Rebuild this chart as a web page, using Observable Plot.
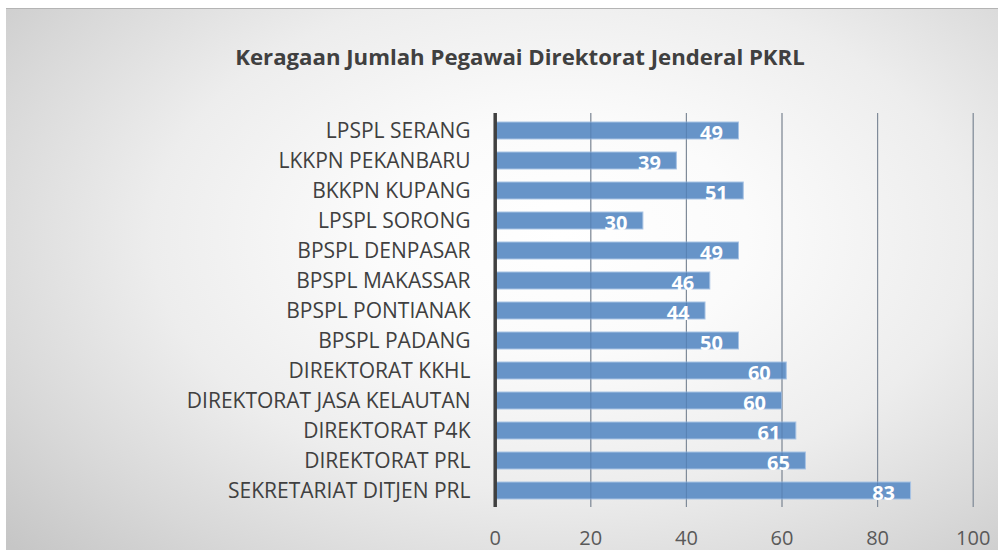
<!DOCTYPE html>
<html><head><meta charset="utf-8">
<script src="https://cdn.jsdelivr.net/npm/d3@7"></script>
<script src="https://cdn.jsdelivr.net/npm/@observablehq/plot@0.6"></script>
<style>
html,body{margin:0;padding:0;background:#fff}
body{width:998px;height:550px;overflow:hidden;position:relative;font-family:"Open Sans",sans-serif}
#bg{position:absolute;left:6px;top:8px;right:0;bottom:0;border-top:1px solid #b4b4b4;
background:radial-gradient(ellipse 75% 85% at 56% 42%, #ffffff 0%, #fbfbfb 25%, #ededed 55%, #d8d8d8 80%, #c6c6c6 100%)}
#title{position:absolute;left:0;width:1040px;top:46px;text-align:center;font-weight:700;font-size:22.2px;line-height:21.5px;color:#404040}
#chart{position:absolute;left:0;top:0}
</style>
</head><body>
<div id="bg"></div>
<div id="title">Keragaan Jumlah Pegawai Direktorat Jenderal PKRL</div>
<div id="chart"></div>
<script>
const categories = ["LPSPL SERANG","LKKPN PEKANBARU","BKKPN KUPANG","LPSPL SORONG","BPSPL DENPASAR","BPSPL MAKASSAR","BPSPL PONTIANAK","BPSPL PADANG","DIREKTORAT KKHL","DIREKTORAT JASA KELAUTAN","DIREKTORAT P4K","DIREKTORAT PRL","SEKRETARIAT DITJEN PRL"];
const barLengths = [51,38,52,31,51,45,44,51,61,60,63,65,87];
const valueLabels = [49,39,51,30,49,46,44,50,60,60,61,65,83];
const xTicks = [0,20,40,60,80,100];
const data = categories.map((c,i)=>({category:c,length:barLengths[i],label:valueLabels[i]}));
const grid = xTicks.filter(d=>d>0);
const chart = Plot.plot({
  width:998, height:550,
  marginLeft:494.7, marginRight:25.3, marginTop:106.2, marginBottom:36.1,
  style:{background:"transparent", fontFamily:"'Open Sans', sans-serif", overflow:"visible"},
  x:{domain:[0,100], ticks:xTicks},
  y:{domain:categories, padding:0.44},
  marks:[
    Plot.ruleX(grid,{stroke:"#a0a0a0",strokeWidth:1.2,insetTop:6.8,insetBottom:6.9}),
    Plot.barX(data,{x:"length",y:"category",fill:"#6794c8",stroke:"#a8c3e4",strokeWidth:1}),
    Plot.ruleX(grid,{stroke:"#3a5f8c",strokeOpacity:0.35,strokeWidth:1,insetTop:6.8,insetBottom:6.9}),
    Plot.text(data,{x:"length",y:"category",text:"label",textAnchor:"end",dx:-16,dy:3,fill:"white",fontWeight:700,fontSize:20}),
    Plot.ruleX([0],{stroke:"#404040",strokeWidth:3.5,insetTop:6.8,insetBottom:6.9}),
    Plot.axisY({tickSize:0,tickPadding:24.7,fontSize:21,fill:"#404040",label:null}),
    Plot.axisX({ticks:xTicks,tickSize:0,tickPadding:16,fontSize:20,fill:"#595959",label:null})
  ]
});
document.getElementById("chart").appendChild(chart);
</script>
</body></html>
